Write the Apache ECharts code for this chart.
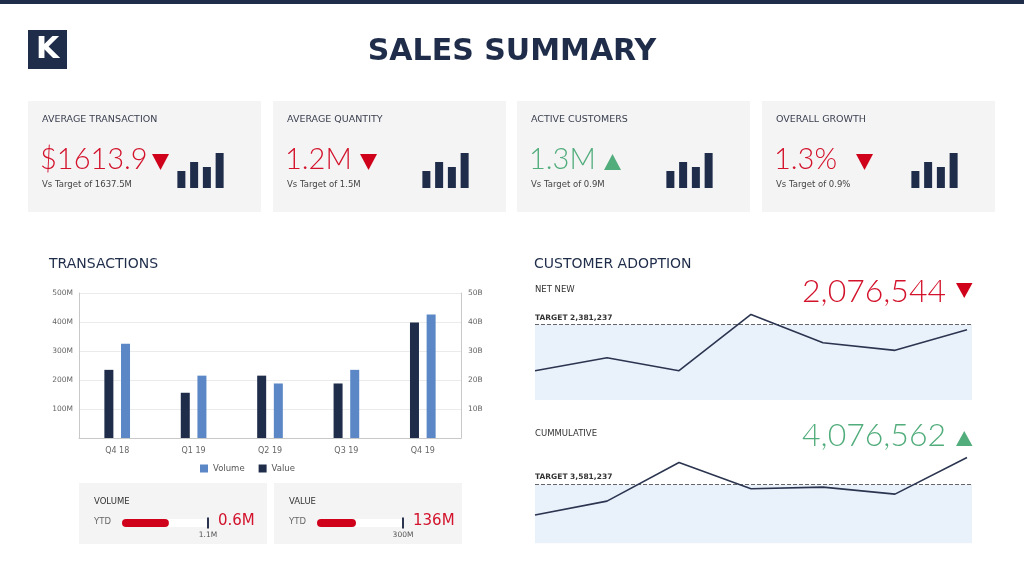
<!DOCTYPE html>
<html>
<head>
<meta charset="utf-8">
<script src="https://cdn.jsdelivr.net/npm/echarts@6/dist/echarts.min.js"></script>
<style>
html,body{margin:0;padding:0;background:#fff;}
#chart{width:1024px;height:576px;}
</style>
</head>
<body>
<div id="chart"></div>
<script>
// ---------- DATA ----------
const pageTitle = 'SALES SUMMARY';
const kpiTitles = ['AVERAGE TRANSACTION', 'AVERAGE QUANTITY', 'ACTIVE CUSTOMERS', 'OVERALL GROWTH'];
const kpiValues = ['$1613.9', '1.2M', '1.3M', '1.3%'];
const kpiTargets = ['Vs Target of 1637.5M', 'Vs Target of 1.5M', 'Vs Target of 0.9M', 'Vs Target of 0.9%'];
const kpiTrend = ['down', 'down', 'up', 'down'];
const sparkValues = [17, 26, 21, 35];

const quarters = ['Q4 18', 'Q1 19', 'Q2 19', 'Q3 19', 'Q4 19'];
const volumeM = [325, 215, 188, 235, 426];     // left axis, millions
const valueB = [23.5, 15.6, 21.5, 18.8, 39.8]; // right axis, billions
const volumeTicks = [0, 100, 200, 300, 400, 500];
const valueTicks = [0, 10, 20, 30, 40, 50];

const netNew = [924000, 1334000, 924000, 2703000, 1808000, 1568000, 2218000];
const netNewTarget = 2381237;
const netNewDisplay = '2,076,544';
const netNewTrend = 'down';
const cumulative = [3019000, 3276000, 3986000, 3502000, 3533000, 3405000, 4078000];
const cumulativeTarget = 3581237;
const cumulativeDisplay = '4,076,562';
const cumulativeTrend = 'up';

const progressNames = ['VOLUME', 'VALUE'];
const progressYtd = [0.6, 136];
const progressTarget = [1.1, 300];
const progressUnit = ['M', 'M'];

// ---------- STYLE ----------
const F = "'DejaVu Sans', sans-serif";
const FL = "Lato, 'DejaVu Sans', sans-serif";
const NAVY = '#1f2d4a';
const RED = '#d3122b';
const GREEN = '#52ad7c';
const CARD = '#f4f4f5';
const BLUE = '#5b87c6';

const chart = echarts.init(document.getElementById('chart'), null, {renderer: 'canvas'});
const fmt = n => n.toLocaleString('en-US');

function tri(x, y, w, h, dir, color) {
  const pts = dir === 'up'
    ? [[x + w / 2, y], [x + w, y + h], [x, y + h]]
    : [[x, y], [x + w, y], [x + w / 2, y + h]];
  return {type: 'polygon', shape: {points: pts}, style: {fill: color}, silent: true};
}
function txt(x, y, text, size, color, opts) {
  const o = opts || {};
  const align = o.align || 'left';
  return {
    type: 'text', x: x, y: y, silent: true,
    style: {text: text, fontSize: size, fill: color, fontFamily: o.fontFamily || F,
      fontWeight: o.fontWeight || 'normal',
      align: align, verticalAlign: 'middle', textAlign: align, textVerticalAlign: 'middle'}
  };
}

const graphic = [];
graphic.push({type: 'rect', shape: {x: 0, y: 0, width: 1024, height: 4}, style: {fill: NAVY}, silent: true});
graphic.push({type: 'rect', shape: {x: 28, y: 30, width: 39, height: 39}, style: {fill: NAVY}, silent: true});
graphic.push(txt(47.5, 50, 'K', 30, '#fff', {fontWeight: 'bold', align: 'center'}));
graphic.push(txt(512, 52, pageTitle, 30, NAVY, {fontWeight: 'bold', align: 'center'}));

const cardX = [28, 273, 517, 762];
const arrowOff = [124, 87, 87, 94];
cardX.forEach((cx, i) => {
  const col = kpiTrend[i] === 'up' ? GREEN : RED;
  graphic.push({type: 'rect', shape: {x: cx, y: 101, width: 233, height: 111}, style: {fill: CARD}, silent: true});
  graphic.push(txt(cx + 14, 120, kpiTitles[i], 9.5, '#3c4150'));
  graphic.push(txt(cx + 12, 160, kpiValues[i], 29, col, {fontFamily: FL, fontWeight: 300}));
  graphic.push(tri(cx + arrowOff[i], 154, 17, 16, kpiTrend[i], kpiTrend[i] === 'up' ? GREEN : '#d0021b'));
  graphic.push(txt(cx + 14, 185, kpiTargets[i], 8.5, '#444'));
});

graphic.push(txt(49, 264, 'TRANSACTIONS', 14, NAVY));
graphic.push(txt(534, 264, 'CUSTOMER ADOPTION', 14, NAVY));
graphic.push(txt(535, 290, 'NET NEW', 8.5, '#333'));
graphic.push(txt(535, 434, 'CUMMULATIVE', 8.5, '#333'));
graphic.push(txt(946, 292, netNewDisplay, 32, netNewTrend === 'up' ? GREEN : RED, {fontFamily: FL, fontWeight: 300, align: 'right'}));
graphic.push(tri(956, 283, 16.5, 15, netNewTrend, netNewTrend === 'up' ? GREEN : '#d0021b'));
graphic.push(txt(946, 436, cumulativeDisplay, 32, cumulativeTrend === 'up' ? GREEN : RED, {fontFamily: FL, fontWeight: 300, align: 'right'}));
graphic.push(tri(956, 431, 16.5, 15, cumulativeTrend, cumulativeTrend === 'up' ? GREEN : '#d0021b'));

const pCardX = [79, 274];
pCardX.forEach((px, i) => {
  graphic.push({type: 'rect', shape: {x: px, y: 483, width: 188, height: 61}, style: {fill: CARD}, silent: true});
  graphic.push(txt(px + 15, 501.5, progressNames[i], 8.5, '#333'));
  graphic.push(txt(px + 15, 522, 'YTD', 8.5, '#666'));
  graphic.push(txt(px + 139, 521.5, progressYtd[i] + progressUnit[i], 15, RED));
});

// ---------- AXES / SERIES ----------
const grids = [], xAxes = [], yAxes = [], series = [];

// mini spark bars (grids 0-3, x 0-3, y 0-3)
cardX.forEach((cx, i) => {
  grids.push({left: cx + 147, top: 153, width: 51, height: 35});
  xAxes.push({gridIndex: i, type: 'category', data: sparkValues.map((_, j) => String(j)), show: false});
  yAxes.push({gridIndex: i, type: 'value', min: 0, max: Math.max(...sparkValues), show: false});
  series.push({type: 'bar', xAxisIndex: i, yAxisIndex: i, data: sparkValues, barWidth: 8,
    itemStyle: {color: NAVY}, silent: true, animation: false});
});

// transactions (grid 4, x 4, y 4 & 5)
grids.push({left: 79, right: 563, top: 293, bottom: 138});
xAxes.push({gridIndex: 4, type: 'category', data: quarters,
  axisLine: {show: true, lineStyle: {color: '#c8c8c8'}}, axisTick: {show: false},
  axisLabel: {fontSize: 8, color: '#666', margin: 9, fontFamily: F}});
yAxes.push({gridIndex: 4, type: 'value', position: 'left', min: volumeTicks[0], max: volumeTicks[volumeTicks.length - 1], interval: volumeTicks[1] - volumeTicks[0],
  axisLine: {show: true, lineStyle: {color: '#c8c8c8'}}, axisTick: {show: false},
  splitLine: {show: true, lineStyle: {color: '#ebebeb'}},
  axisLabel: {fontSize: 7.5, color: '#666', fontFamily: F, margin: 6, formatter: v => v === 0 ? '' : v + 'M'}});
yAxes.push({gridIndex: 4, type: 'value', position: 'right', min: valueTicks[0], max: valueTicks[valueTicks.length - 1], interval: valueTicks[1] - valueTicks[0],
  axisLine: {show: true, lineStyle: {color: '#c8c8c8'}}, axisTick: {show: false},
  splitLine: {show: false},
  axisLabel: {fontSize: 7.5, color: '#666', fontFamily: F, margin: 7, formatter: v => v === 0 ? '' : v + 'B'}});
series.push({name: 'Value', type: 'bar', xAxisIndex: 4, yAxisIndex: 5, data: valueB, barWidth: 9, barGap: '85%',
  itemStyle: {color: NAVY}, animation: false});
series.push({name: 'Volume', type: 'bar', xAxisIndex: 4, yAxisIndex: 4, data: volumeM, barWidth: 9, barGap: '85%',
  itemStyle: {color: BLUE}, animation: false});

// adoption lines (grids 5,6; x 5,6; y 6,7)
function adoption(gi, xi, yi, top, height, data, target, yMin, yMax) {
  grids.push({left: 535, right: 52, top: top, height: height});
  xAxes.push({gridIndex: gi, type: 'value', min: 0, max: (data.length - 1) * 1.0116, show: false, splitLine: {show: false}});
  yAxes.push({gridIndex: gi, type: 'value', min: yMin, max: yMax, show: false, splitLine: {show: false}});
  series.push({type: 'line', xAxisIndex: xi, yAxisIndex: yi, data: data.map((v, j) => [j, v]), symbol: 'none', animation: false,
    lineStyle: {color: '#2b3550', width: 1.6}, z: 5,
    markArea: {silent: true, itemStyle: {color: '#e9f1fb'}, data: [[{yAxis: yMin}, {yAxis: target}]]},
    markLine: {silent: true, symbol: 'none', animation: false,
      lineStyle: {color: '#666', type: 'dashed', width: 1},
      label: {position: 'insideStartTop', formatter: 'TARGET ' + fmt(target), fontSize: 7.5, fontWeight: 'bold',
        color: '#333', fontFamily: F, distance: [0, 3]},
      data: [{yAxis: target}]}
  });
}
adoption(5, 5, 6, 305, 95, netNew, netNewTarget, 0, 3000000);
adoption(6, 6, 7, 440, 103.3, cumulative, cumulativeTarget, 2500000, 4400000);

// progress bars (grids 7,8; x 7,8; y 8,9)
const trackX = [122, 317];
trackX.forEach((tx, i) => {
  const gi = 7 + i;
  const yi = 8 + i;
  grids.push({left: tx, width: 86, top: 517.5, height: 11});
  xAxes.push({gridIndex: gi, type: 'value', min: 0, max: progressTarget[i], show: false, splitLine: {show: false}});
  yAxes.push({gridIndex: gi, type: 'category', data: [progressNames[i]], show: false});
  series.push({type: 'bar', xAxisIndex: gi, yAxisIndex: yi, data: [progressYtd[i]], barWidth: 8, clip: false,
    itemStyle: {color: '#d0021b', borderRadius: 4}, showBackground: true,
    backgroundStyle: {color: '#ffffff', borderRadius: 4}, silent: true, animation: false,
    markLine: {silent: true, symbol: 'none', animation: false,
      lineStyle: {color: '#2b3550', width: 2, type: 'solid'},
      label: {position: 'start', formatter: progressTarget[i] + progressUnit[i], fontSize: 7.5, color: '#555',
        fontFamily: F, distance: 3},
      data: [{xAxis: progressTarget[i]}]}
  });
});

chart.setOption({
  backgroundColor: '#ffffff',
  animation: false,
  textStyle: {fontFamily: F},
  graphic: {elements: graphic},
  grid: grids,
  xAxis: xAxes,
  yAxis: yAxes,
  legend: {data: ['Volume', 'Value'], left: 195, top: 459, icon: 'rect', itemWidth: 8, itemHeight: 8,
    itemGap: 14, textStyle: {fontSize: 8.5, color: '#555', fontFamily: F}},
  series: series
});
</script>
</body>
</html>
